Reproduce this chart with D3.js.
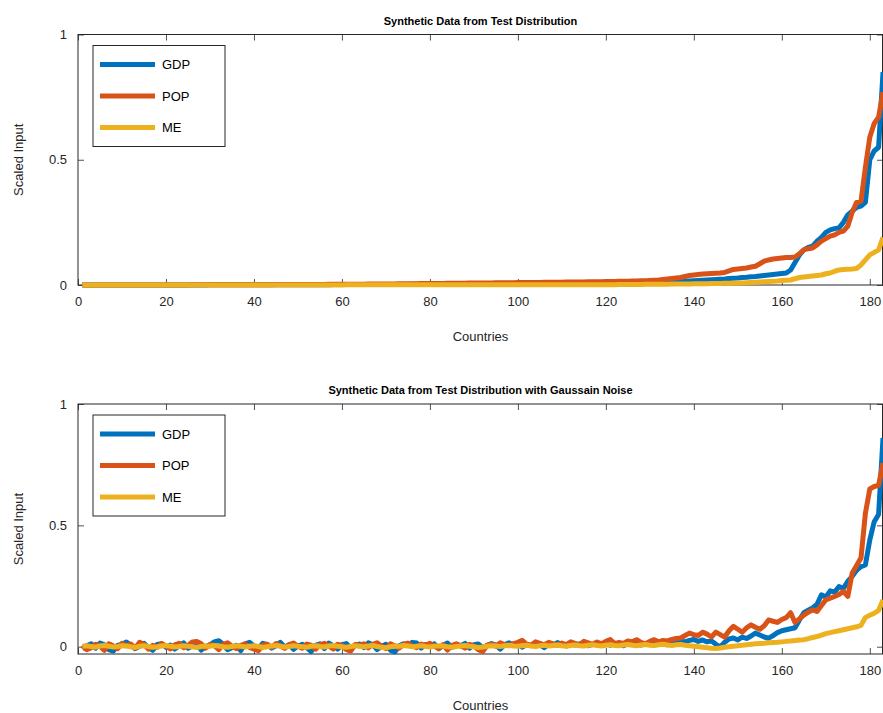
<!DOCTYPE html>
<html>
<head>
<meta charset="utf-8">
<script src="https://cdn.jsdelivr.net/npm/d3@7"></script>
<style>
  html, body { margin: 0; padding: 0; background: #ffffff; }
  svg { display: block; font-family: "Liberation Sans", Arial, Helvetica, sans-serif; }
</style>
</head>
<body>
<div id="chart"></div>
<script>
// top panel: clean synthetic data, one value per country (1..183)
const gdp = [
  0,0,0,0,0,0,0,0,0,0,
  0,0,0,0,0,0,0,0,0,0,
  0,0,0,0,0,0,0,0,0,0.001,
  0.001,0.001,0.001,0.001,0.001,0.001,0.001,0.001,0.001,0.001,
  0.001,0.001,0.001,0.001,0.001,0.001,0.001,0.001,0.001,0.001,
  0.001,0.001,0.001,0.001,0.001,0.001,0.001,0.002,0.002,0.002,
  0.002,0.002,0.002,0.002,0.002,0.002,0.002,0.002,0.002,0.002,
  0.002,0.002,0.002,0.002,0.002,0.003,0.003,0.003,0.003,0.003,
  0.003,0.003,0.003,0.003,0.003,0.003,0.003,0.004,0.004,0.004,
  0.004,0.004,0.004,0.004,0.004,0.005,0.005,0.005,0.005,0.005,
  0.005,0.005,0.005,0.006,0.006,0.006,0.006,0.006,0.006,0.007,
  0.007,0.007,0.007,0.007,0.008,0.008,0.008,0.008,0.009,0.009,
  0.009,0.009,0.010,0.010,0.010,0.010,0.011,0.011,0.011,0.012,
  0.012,0.012,0.013,0.013,0.013,0.014,0.014,0.015,0.016,0.017,
  0.018,0.019,0.020,0.021,0.022,0.023,0.024,0.026,0.027,0.028,
  0.030,0.031,0.033,0.034,0.036,0.038,0.040,0.042,0.044,0.046,
  0.048,0.060,0.090,0.120,0.140,0.150,0.155,0.175,0.190,0.210,
  0.220,0.225,0.228,0.250,0.280,0.295,0.310,0.315,0.330,0.500,
  0.535,0.550,0.850
];
const pop = [
  0,0,0,0,0,0,0,0,0,0,
  0,0,0,0,0,0,0,0,0,0,
  0,0,0,0,0,0.001,0.001,0.001,0.001,0.001,
  0.001,0.001,0.001,0.001,0.001,0.001,0.001,0.001,0.001,0.001,
  0.001,0.001,0.001,0.001,0.002,0.002,0.002,0.002,0.002,0.002,
  0.002,0.002,0.002,0.002,0.002,0.002,0.003,0.003,0.003,0.003,
  0.003,0.003,0.003,0.003,0.003,0.004,0.004,0.004,0.004,0.004,
  0.004,0.004,0.005,0.005,0.005,0.005,0.005,0.006,0.006,0.006,
  0.006,0.006,0.006,0.007,0.007,0.007,0.007,0.007,0.008,0.008,
  0.008,0.008,0.008,0.008,0.009,0.009,0.009,0.009,0.009,0.010,
  0.010,0.010,0.010,0.010,0.010,0.011,0.011,0.011,0.011,0.011,
  0.012,0.012,0.012,0.012,0.012,0.013,0.013,0.013,0.013,0.014,
  0.014,0.014,0.015,0.015,0.015,0.016,0.016,0.017,0.017,0.018,
  0.019,0.020,0.022,0.024,0.026,0.028,0.030,0.034,0.038,0.040,
  0.042,0.044,0.045,0.046,0.047,0.048,0.050,0.056,0.062,0.064,
  0.066,0.068,0.072,0.075,0.085,0.095,0.100,0.104,0.106,0.108,
  0.110,0.110,0.112,0.125,0.140,0.145,0.148,0.160,0.175,0.185,
  0.195,0.200,0.210,0.215,0.235,0.290,0.330,0.335,0.470,0.590,
  0.645,0.670,0.770
];
const me = [
  0,0,0,0,0,0,0,0,0,0,
  0,0,0,0,0,0,0,0,0,0,
  0,0,0,0,0,0,0,0,0,0,
  0,0,0,0,0,0,0,0,0,0,
  0,0,0,0,0,0,0,0,0,0,
  0,0,0,0,0,0,0,0,0,0,
  0.001,0.001,0.001,0.001,0.001,0.001,0.001,0.001,0.001,0.001,
  0.001,0.001,0.001,0.001,0.001,0.001,0.001,0.001,0.001,0.001,
  0.001,0.001,0.001,0.001,0.001,0.001,0.001,0.001,0.001,0.001,
  0.001,0.001,0.001,0.001,0.001,0.001,0.001,0.001,0.001,0.001,
  0.001,0.001,0.001,0.001,0.001,0.001,0.001,0.001,0.001,0.001,
  0.001,0.001,0.001,0.001,0.001,0.001,0.001,0.001,0.001,0.001,
  0.001,0.001,0.002,0.002,0.002,0.002,0.002,0.002,0.003,0.003,
  0.003,0.003,0.003,0.003,0.004,0.004,0.004,0.004,0.004,0.005,
  0.005,0.005,0.005,0.006,0.006,0.006,0.007,0.007,0.007,0.008,
  0.008,0.009,0.010,0.011,0.012,0.013,0.014,0.015,0.016,0.018,
  0.019,0.020,0.025,0.030,0.032,0.034,0.036,0.038,0.040,0.045,
  0.048,0.055,0.060,0.062,0.063,0.064,0.066,0.080,0.100,0.120,
  0.130,0.140,0.190
];

// bottom panel: the same series with gaussian noise
const gdp_noisy = [
  -0.010,0.004,0.012,-0.006,0.015,0.008,-0.012,-0.018,0.005,0.010,
  0.019,0.006,-0.008,0.002,0.014,-0.004,-0.015,0.009,0.012,-0.003,
  0.007,-0.010,0.004,0.016,-0.006,0.003,0.011,-0.014,0.001,0.008,
  0.020,0.025,0.010,-0.012,-0.004,0.006,-0.016,0.012,0.018,0.003,
  -0.008,0.014,0.009,-0.006,0.004,0.018,-0.002,0.008,-0.011,0.003,
  0.010,-0.004,-0.020,0.006,0.012,-0.008,0.015,0.004,-0.010,0.008,
  0.013,-0.005,0.006,0.011,-0.004,0.016,0.008,-0.012,0.002,0.010,
  -0.014,-0.022,0.004,0.012,0.006,0.018,0.015,-0.006,0.009,0.003,
  0.012,-0.008,0.006,0.015,-0.003,0.009,0.004,0.014,-0.006,0.008,
  0.011,-0.004,0.005,0.013,0.007,-0.010,0.009,0.016,0.006,0.012,
  -0.002,0.010,0.004,0.015,0.008,-0.004,0.012,0.006,0.017,0.009,
  0.003,0.014,0.007,0.011,0.018,0.004,0.010,0.016,0.008,0.013,
  0.006,0.015,0.011,0.004,0.014,0.009,0.017,0.007,0.012,0.016,
  0.010,0.019,0.013,0.008,0.018,0.015,0.024,0.020,0.026,0.030,
  0.022,0.028,0.020,0.024,0.010,-0.001,0.018,0.032,0.036,0.028,
  0.040,0.034,0.044,0.056,0.048,0.040,0.035,0.046,0.058,0.066,
  0.070,0.074,0.078,0.110,0.140,0.150,0.160,0.175,0.214,0.205,
  0.230,0.225,0.248,0.240,0.270,0.290,0.315,0.330,0.337,0.440,
  0.515,0.545,0.860
];
const pop_noisy = [
  0.006,-0.012,-0.004,0.010,0.002,-0.015,0.012,0.004,-0.008,0.014,
  0.004,0.011,-0.006,0.018,0.009,-0.010,0.006,-0.002,0.013,0.003,
  -0.009,0.008,0.014,-0.004,0.005,0.020,0.022,0.012,-0.006,0.009,
  0.004,-0.012,0.010,0.016,0.002,-0.008,0.006,0.012,-0.003,-0.010,
  -0.016,0.006,0.010,-0.002,0.013,0.004,-0.007,0.009,0.015,0.002,
  -0.006,0.011,0.006,-0.010,0.008,0.014,0.003,-0.009,0.010,0.005,
  -0.012,-0.018,0.009,0.004,0.012,-0.005,0.010,0.016,0.002,-0.008,
  0.012,0.004,-0.006,0.010,0.015,0.003,-0.004,0.011,0.006,0.014,
  0.002,-0.008,0.009,-0.014,0.006,0.012,0.004,-0.006,0.010,0.003,
  -0.012,-0.020,0.006,0.011,0.002,0.016,0.008,0.004,0.013,0.018,
  0.026,0.010,0.006,0.020,0.014,0.008,0.018,0.012,0.006,0.015,
  0.009,0.020,0.014,0.006,0.022,0.016,0.010,0.019,0.012,0.022,
  0.030,0.012,0.018,0.014,0.024,0.020,0.029,0.018,0.012,0.022,
  0.029,0.020,0.026,0.024,0.030,0.034,0.036,0.046,0.056,0.050,
  0.046,0.060,0.052,0.040,0.060,0.050,0.040,0.066,0.084,0.072,
  0.060,0.078,0.090,0.080,0.072,0.086,0.110,0.105,0.100,0.112,
  0.120,0.140,0.100,0.115,0.130,0.142,0.152,0.145,0.170,0.193,
  0.200,0.207,0.215,0.228,0.207,0.304,0.335,0.366,0.550,0.650,
  0.660,0.665,0.757
];
const me_noisy = [
  0.002,0.004,0.001,-0.002,0.003,0.005,0.002,-0.001,0.001,0.004,
  0.003,0.000,-0.003,0.002,0.004,0.001,-0.002,0.000,0.003,0.005,
  0.002,-0.001,0.001,0.004,0.002,0.000,-0.003,0.001,0.003,0.002,
  0.005,0.003,0.000,-0.002,0.001,0.004,0.002,-0.001,0.002,0.004,
  0.001,-0.003,0.000,0.003,0.005,0.002,-0.001,0.001,0.004,0.002,
  0.000,-0.002,0.002,0.004,0.001,-0.001,0.003,0.005,0.002,0.000,
  -0.002,0.001,0.004,0.002,0.000,0.003,0.005,0.001,-0.002,-0.004,
  0.000,0.003,0.002,0.005,0.003,0.000,0.002,0.004,0.001,-0.001,
  0.002,0.004,0.003,0.000,-0.002,0.001,0.003,0.005,0.002,0.000,
  -0.003,-0.001,0.002,0.004,0.003,0.001,0.004,0.006,0.003,0.002,
  0.004,0.006,0.003,0.001,0.004,0.006,0.003,0.005,0.007,0.004,
  0.002,0.005,0.007,0.004,0.003,0.006,0.008,0.005,0.003,0.006,
  0.008,0.005,0.004,0.007,0.009,0.006,0.004,0.007,0.009,0.006,
  0.005,0.008,0.010,0.007,0.005,0.008,0.009,0.006,0.004,0.002,
  0.000,-0.002,-0.004,-0.006,-0.007,-0.005,-0.002,0.000,0.002,0.004,
  0.006,0.008,0.010,0.012,0.013,0.014,0.016,0.017,0.018,0.020,
  0.022,0.024,0.026,0.028,0.029,0.033,0.038,0.042,0.048,0.054,
  0.058,0.062,0.066,0.070,0.074,0.078,0.082,0.088,0.120,0.130,
  0.138,0.150,0.193
];

const series_names = ['GDP', 'POP', 'ME'];
const series_colors = ['#0072bd', '#d95319', '#edb120'];
const x_ticks = [0, 20, 40, 60, 80, 100, 120, 140, 160, 180];
const y_ticks = [0, 0.5, 1];

(function() {
    const width = 883, height = 713;
    const axis_color = '#262626';

    let svg = d3.select('#chart').append('svg')
        .attr('width', width)
        .attr('height', height);

    let panel = function(fmt, data) {
        let x = d3.scaleLinear().domain([0, 183]).range([fmt.left, fmt.right]);
        let y = d3.scaleLinear().domain(fmt.ylim).range([fmt.bottom, fmt.top]);

        let g = svg.append('g');

        // bottom / top axes with inward ticks
        g.append('g')
            .attr('transform', 'translate(0,' + fmt.bottom + ')')
            .call(d3.axisBottom(x).tickValues(x_ticks).tickSize(-6).tickPadding(12).tickSizeOuter(0))
            .call(ax => ax.select('.domain').remove());
        g.append('g')
            .attr('transform', 'translate(0,' + fmt.top + ')')
            .call(d3.axisTop(x).tickValues(x_ticks).tickSize(-6).tickFormat('').tickSizeOuter(0))
            .call(ax => ax.select('.domain').remove());
        g.append('g')
            .attr('transform', 'translate(' + fmt.left + ',0)')
            .call(d3.axisLeft(y).tickValues(y_ticks).tickSize(-6).tickPadding(11)
                .tickFormat(d3.format('')).tickSizeOuter(0))
            .call(ax => ax.select('.domain').remove());
        g.append('g')
            .attr('transform', 'translate(' + fmt.right + ',0)')
            .call(d3.axisRight(y).tickValues(y_ticks).tickSize(-6).tickFormat('').tickSizeOuter(0))
            .call(ax => ax.select('.domain').remove());

        g.selectAll('.tick line')
            .attr('stroke', axis_color)
            .attr('stroke-width', 0.8);
        g.selectAll('.tick text')
            .attr('fill', axis_color)
            .attr('font-size', 13)
            .attr('font-family', '"Liberation Sans", Arial, sans-serif');

        g.append('rect')
            .attr('x', fmt.left)
            .attr('y', fmt.top)
            .attr('width', fmt.right - fmt.left - 0.5)
            .attr('height', fmt.bottom - fmt.top)
            .attr('fill', 'none')
            .attr('stroke', axis_color)
            .attr('stroke-width', 1);

        let line = d3.line()
            .x((d, i) => x(i + 1))
            .y((d) => y(d));

        g.append('defs').append('clipPath')
            .attr('id', fmt.id + '-clip')
            .append('rect')
            .attr('x', fmt.left)
            .attr('y', fmt.top - 3)
            .attr('width', fmt.right - fmt.left)
            .attr('height', fmt.bottom - fmt.top + 6);

        g.append('g')
            .attr('clip-path', 'url(#' + fmt.id + '-clip)')
            .selectAll('path')
            .data(data)
            .enter().append('path')
            .attr('fill', 'none')
            .attr('stroke', (d, i) => series_colors[i])
            .attr('stroke-width', 5)
            .attr('stroke-linejoin', 'round')
            .attr('stroke-linecap', 'butt')
            .attr('d', line);

        // legend
        let legend = g.append('g');
        legend.append('rect')
            .attr('x', fmt.left + 15)
            .attr('y', fmt.top + 11)
            .attr('width', 132)
            .attr('height', 101)
            .attr('fill', '#ffffff')
            .attr('stroke', axis_color)
            .attr('stroke-width', 1);
        series_names.forEach(function(name, i) {
            let ly = fmt.top + 30 + i * 31.5;
            legend.append('line')
                .attr('x1', fmt.left + 22)
                .attr('x2', fmt.left + 77)
                .attr('y1', ly)
                .attr('y2', ly)
                .attr('stroke', series_colors[i])
                .attr('stroke-width', 5);
            legend.append('text')
                .attr('x', fmt.left + 84)
                .attr('y', ly)
                .attr('dy', '0.36em')
                .attr('font-size', 13)
                .attr('fill', '#000000')
                .text(name);
        });

        svg.append('text')
            .attr('x', (fmt.left + fmt.right) / 2)
            .attr('y', fmt.top - 10)
            .attr('text-anchor', 'middle')
            .attr('font-size', 11)
            .attr('font-weight', 'bold')
            .attr('fill', '#000000')
            .text(fmt.title);

        svg.append('text')
            .attr('x', (fmt.left + fmt.right) / 2)
            .attr('y', fmt.bottom + 56)
            .attr('text-anchor', 'middle')
            .attr('font-size', 13)
            .attr('fill', axis_color)
            .text('Countries');

        svg.append('text')
            .attr('transform', 'translate(' + 23 + ',' + ((fmt.top + fmt.bottom) / 2) + ') rotate(-90)')
            .attr('text-anchor', 'middle')
            .attr('font-size', 13)
            .attr('fill', axis_color)
            .text('Scaled Input');
    };

    panel({
        id: 'top',
        title: 'Synthetic Data from Test Distribution',
        left: 78, right: 883, top: 34.5, bottom: 285,
        ylim: [0, 1]
    }, [gdp, pop, me]);

    panel({
        id: 'bottom',
        title: 'Synthetic Data from Test Distribution with Gaussain Noise',
        left: 78, right: 883, top: 404, bottom: 654,
        ylim: [-0.03, 1]
    }, [gdp_noisy, pop_noisy, me_noisy]);
}());
</script>
</body>
</html>
